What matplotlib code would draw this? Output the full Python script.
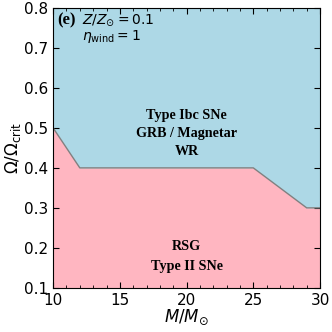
import numpy as np
import matplotlib
matplotlib.use("Agg")
import matplotlib.pyplot as plt
from matplotlib.ticker import MultipleLocator

# boundary between RSG and WR regimes
mass = [10, 12, 25, 29, 30]
omega_crit = [0.5, 0.4, 0.4, 0.3, 0.3]

upper_labels = ["Type Ibc SNe", "GRB / Magnetar", "WR"]
upper_y = [0.532, 0.487, 0.44]
lower_labels = ["RSG", "Type II SNe"]
lower_y = [0.203, 0.153]

fig = plt.figure(figsize=(3.32, 3.32), dpi=100)
ax = fig.add_axes([0.16, 0.133, 0.804, 0.843])

ax.fill_between(mass, omega_crit, 0.8, color="lightblue", lw=0)
ax.fill_between(mass, 0.1, omega_crit, color="lightpink", lw=0)
ax.plot(mass, omega_crit, color="gray", lw=1)

ax.set_xlim(10, 30)
ax.set_ylim(0.1, 0.8)
ax.xaxis.set_major_locator(MultipleLocator(5))
ax.xaxis.set_minor_locator(MultipleLocator(1))
ax.yaxis.set_major_locator(MultipleLocator(0.1))
ax.tick_params(which="both", direction="in", top=True, right=True, labelsize=11)
ax.tick_params(which="major", length=4)
ax.tick_params(which="minor", length=2)
ax.set_xlabel(r"$M/M_{\odot}$", fontsize=12, labelpad=0)
ax.set_ylabel(r"$\Omega/\Omega_{\rm crit}$", fontsize=12, labelpad=1)

serif = dict(family="Liberation Serif", fontweight="bold", fontsize=10.2,
             ha="center", va="center")
for lab, y in zip(upper_labels, upper_y):
    ax.text(20, y, lab, **serif)
for lab, y in zip(lower_labels, lower_y):
    ax.text(20, y, lab, **serif)

ax.text(0.015, 0.985, "(e)", transform=ax.transAxes, family="Liberation Serif",
        fontweight="bold", fontsize=12, ha="left", va="top")
ax.text(0.11, 0.985, r"$Z/Z_{\odot}=0.1$", transform=ax.transAxes,
        fontsize=10, ha="left", va="top")
ax.text(0.11, 0.93, r"$\eta_{\rm wind}=1$", transform=ax.transAxes,
        fontsize=10, ha="left", va="top")

fig.savefig("out.png", dpi=100)
